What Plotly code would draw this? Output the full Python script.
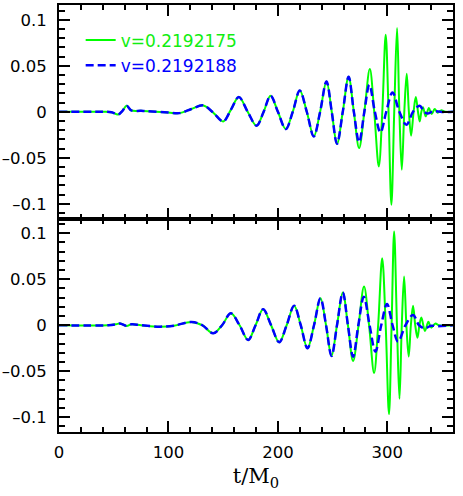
import plotly.graph_objects as go
from plotly.subplots import make_subplots

# Top panel: waveform (t/M0, amplitude)
top_green_t = [0, 40, 48, 54, 58, 61.8, 66, 75, 85, 100, 110, 121, 131.8, 141, 150, 157,
               164.3, 172.4, 180.5, 187, 193.3, 200, 207.2, 213.6, 220, 226.4, 232.8,
               238.6, 244.4, 249.2, 254, 259.3, 264.6, 269.4, 274.2, 279, 284, 288,
               292.2, 295.4, 298.5, 301.1, 303.7, 306.3, 308.9, 311, 313.2, 315.5,
               317.7, 319.7, 321.7, 324, 326, 328, 329.6, 331.1, 332.6, 335, 338,
               340.5, 343.3, 346, 349, 353, 360]
top_green_h = [0, 0, -0.0005, -0.003, 0.001, 0.0065, 0.0015, 0.001, 0.0003, -0.0008,
               -0.0015, 0.003, 0.0069, -0.001, -0.0105, 0.002, 0.016, 0, -0.0152, 0,
               0.0174, 0, -0.0188, 0, 0.023, 0, -0.0268, 0, 0.033, 0, -0.0348, 0,
               0.038, 0, -0.0395, 0, 0.0464, 0, -0.0594, 0, 0.0837, 0, -0.101, 0,
               0.091, 0, -0.063, 0, 0.0413, 0, -0.026, 0, 0.016, 0, -0.0105, 0,
               0.005, -0.005, 0.004, -0.0025, 0.003, -0.001, 0.0015, 0, 0]

top_blue_t = [0, 40, 48, 54, 58, 61.8, 66, 75, 85, 100, 110, 121, 131.8, 141, 150, 157,
              164.3, 172.4, 180.5, 187, 193.3, 200, 207.2, 213.6, 220, 226.4, 232.8,
              238.6, 244.4, 249.2, 254, 259.3, 264.6, 269.4, 274.2, 279, 283.6, 288.6,
              293.7, 299, 304.7, 311, 317.4, 323.5, 329.6, 333.5, 336.8, 342, 350, 360]
top_blue_h = [0, 0, -0.0005, -0.003, 0.001, 0.0065, 0.0015, 0.001, 0.0003, -0.0008,
              -0.0015, 0.003, 0.0069, -0.001, -0.0105, 0.002, 0.016, 0, -0.0152, 0,
              0.0174, 0, -0.0188, 0, 0.023, 0, -0.0268, 0, 0.033, 0, -0.0348, 0,
              0.038, 0, -0.033, 0, 0.0293, 0, -0.0225, 0, 0.021, 0, -0.0141, 0,
              0.0065, 0, -0.002, 0.0005, -0.0003, 0]

# Bottom panel
bot_green_t = [0, 45, 52, 55.7, 61.8, 66.3, 75, 92, 105, 121.1, 131, 140.9, 149, 157,
               165, 172.8, 179.6, 186.5, 193.8, 201.2, 208, 214.8, 220.9, 227, 233,
               238.9, 244, 249, 254, 259.3, 264, 268.7, 273.7, 278.7, 283.3, 287.9,
               291.6, 295.3, 298.5, 301.5, 303.9, 306.2, 308.8, 311.1, 313.2, 315.3,
               317.4, 319.5, 321.5, 323.5, 325.5, 327.5, 329.3, 331.1, 334.4, 337.5,
               340, 344, 347, 360]
bot_green_h = [0, 0, 0.001, 0.002, -0.0007, 0.001, 0, -0.0015, -0.0005, 0.0036, 0,
               -0.0087, 0, 0.013, 0, -0.016, 0, 0.0174, 0, -0.0185, 0, 0.0213, 0,
               -0.025, 0, 0.0293, 0, -0.0334, 0, 0.0355, 0, -0.0388, 0, 0.042, 0,
               -0.052, 0, 0.0728, 0, -0.0966, 0, 0.1018, 0, -0.080, 0, 0.053, 0,
               -0.034, 0, 0.0213, 0, -0.0135, 0, 0.0083, -0.0062, 0.0039, -0.0026,
               0.002, 0, 0]

bot_blue_t = [0, 45, 52, 55.7, 61.8, 66.3, 75, 92, 105, 121.1, 131, 140.9, 149, 157,
              165, 172.8, 179.6, 186.5, 193.8, 201.2, 208, 214.8, 220.9, 227, 233,
              238.9, 244, 249, 254, 259.3, 264, 268.7, 273.5, 278.5, 283.8, 289.1,
              294.4, 299.7, 304.8, 309.8, 316.6, 323.5, 329, 334.2, 340, 345, 360]
bot_blue_h = [0, 0, 0.001, 0.002, -0.0007, 0.001, 0, -0.0015, -0.0005, 0.0036, 0,
              -0.0087, 0, 0.013, 0, -0.016, 0, 0.0174, 0, -0.0185, 0, 0.0213, 0,
              -0.025, 0, 0.0293, 0, -0.0334, 0, 0.0355, 0, -0.0341, 0, 0.031, 0,
              -0.0287, 0, 0.0232, 0, -0.0178, 0, 0.0112, 0, -0.0033, -0.0005,
              -0.001, 0]

labels = ["v=0.2192175", "v=0.2192188"]
y_tickvals = [-0.1, -0.05, 0, 0.05, 0.1]
y_ticktext = ["\u20130.1", "\u20130.05", "0", "0.05", "0.1"]
x_tickvals = [0, 100, 200, 300]

GREEN = "#00ff00"
BLUE = "#0000ff"
FONT = "DejaVu Sans"

fig = make_subplots(rows=2, cols=1, shared_xaxes=True, vertical_spacing=0)

panels = [
    (1, top_green_t, top_green_h, top_blue_t, top_blue_h),
    (2, bot_green_t, bot_green_h, bot_blue_t, bot_blue_h),
]
for row, gt, gh, bt, bh in panels:
    fig.add_trace(go.Scatter(
        x=gt, y=gh, mode="lines", line_shape="spline",
        name="<span style='color:%s'>%s</span>" % ("#11ee11", labels[0]),
        showlegend=(row == 1),
        line=dict(color=GREEN, width=2),
    ), row=row, col=1)
    fig.add_trace(go.Scatter(
        x=bt, y=bh, mode="lines", line_shape="spline",
        name="<span style='color:%s'>%s</span>" % (BLUE, labels[1]),
        showlegend=(row == 1),
        line=dict(color=BLUE, width=2.5, dash="8px,4px"),
    ), row=row, col=1)

axis_common = dict(
    showline=True, linecolor="black", linewidth=2, mirror="allticks",
    ticks="inside", ticklen=11, tickwidth=2, tickcolor="black",
    showgrid=False, zeroline=False, automargin=False,
    tickfont=dict(family=FONT, size=16.5, color="black"),
)

fig.update_xaxes(
    range=[0, 360], tickvals=x_tickvals,
    minor=dict(dtick=20, ticks="inside", ticklen=5, tickwidth=1.5, tickcolor="black"),
    **axis_common,
)
fig.update_xaxes(showticklabels=False, row=1, col=1)
fig.update_xaxes(
    ticklabelstandoff=4,
    title=dict(text="t/M<sub>0</sub>", standoff=8,
               font=dict(family="DejaVu Serif", size=21, color="black")),
    row=2, col=1,
)
fig.update_yaxes(
    range=[-0.116, 0.116], tickvals=y_tickvals, ticktext=y_ticktext,
    ticklabelstandoff=7,
    minor=dict(dtick=0.01, ticks="inside", ticklen=6, tickwidth=1.5, tickcolor="black"),
    **axis_common,
)

fig.update_layout(
    width=463, height=496,
    margin=dict(l=59, r=10, t=5, b=64, autoexpand=False),
    paper_bgcolor="white", plot_bgcolor="white",
    font=dict(family=FONT, size=17, color="black"),
    showlegend=True,
    legend=dict(
        x=0.055, y=0.959, xanchor="left", yanchor="top",
        bgcolor="rgba(0,0,0,0)", borderwidth=0,
        font=dict(family=FONT, size=17),
        itemwidth=30,
    ),
)

# page body margin would push the 463x496 figure off the window
fig.write_html("out.html", config={"displayModeBar": False},
               post_script="document.body.style.margin='0';")
